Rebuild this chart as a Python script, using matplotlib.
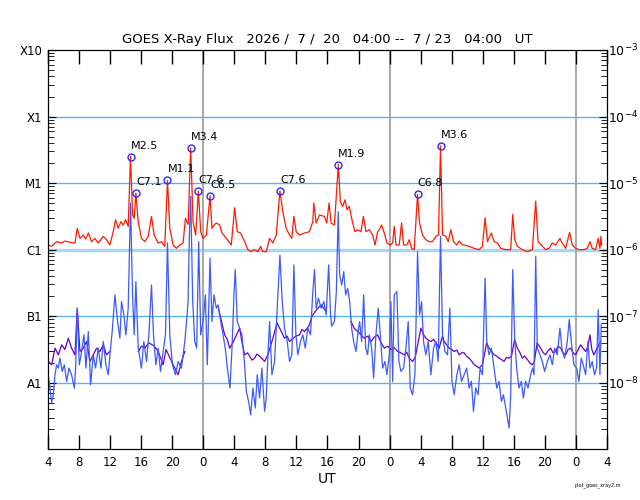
import numpy as np
import matplotlib
matplotlib.use("Agg")
import matplotlib.pyplot as plt
from matplotlib.ticker import FixedLocator, LogLocator, NullFormatter

plt.rcParams['font.family'] = ['DejaVu Sans']

# time axis: hours after 2026/07/20 04:00 UT
# long channel (1-8 A), log10 of flux W/m2
red_t = [0.0, 0.47, 1.11, 1.76, 2.19, 2.83, 3.47, 3.77, 4.11, 4.54, 4.84, 5.19, 5.62, 6.04, 6.47,
         7.12, 7.54, 7.97, 8.40, 8.70, 9.04, 9.39, 9.69, 9.99, 10.33, 10.63, 10.89, 11.10, 11.32,
         11.62, 12.04, 12.47, 12.90, 13.33, 13.67, 14.19, 14.62, 15.04, 15.39, 15.69, 16.12, 16.55,
         16.97, 17.40, 17.70, 18.05, 18.38, 18.68, 19.02, 19.37, 19.67, 19.97, 20.40, 20.87, 21.12,
         21.38, 21.68, 22.11, 22.41, 22.97, 23.61, 24.04, 24.38, 24.81, 25.33, 25.75, 26.18, 26.61,
         27.04, 27.38, 27.68, 28.11, 28.54, 28.97, 29.40, 29.87, 30.25, 30.68, 31.11, 31.41, 31.67,
         31.97, 32.40, 33.04, 33.68, 34.11, 34.24, 34.54, 34.97, 35.61, 35.90, 36.20, 36.46, 36.89,
         37.40, 37.66, 37.96, 38.26, 38.51, 38.81, 39.11, 39.54, 39.89, 40.31, 40.62, 40.96, 41.39,
         41.82, 42.12, 42.46, 42.67, 42.97, 43.32, 43.66, 44.09, 44.39, 44.60, 44.82, 45.24, 45.54,
         45.80, 46.23, 46.53, 46.83, 47.17, 47.60, 47.86, 48.24, 48.67, 49.10, 49.53, 49.96, 50.30,
         50.56, 50.82, 51.25, 51.55, 51.89, 52.23, 52.66, 52.96, 53.39, 53.60, 54.24, 54.89, 55.53,
         55.96, 56.30, 56.60, 57.11, 57.46, 57.89, 58.31, 58.96, 59.60, 59.86, 60.12, 60.46, 61.10,
         61.74, 62.39, 62.82, 63.12, 63.54, 64.10, 64.53, 64.96, 65.39, 65.94, 66.24, 66.67, 67.19,
         67.53, 67.96, 68.39, 69.03, 69.46, 69.80, 70.10, 70.53, 70.87, 71.09, 71.22, 71.30]
red_log = [-5.93, -5.95, -5.88, -5.90, -5.87, -5.89, -5.90, -5.68, -5.83, -5.78, -5.84, -5.75, -5.88,
           -5.83, -5.90, -5.80, -5.85, -5.93, -5.73, -5.55, -5.68, -5.58, -5.63, -5.55, -5.65, -4.60,
           -5.48, -5.53, -5.15, -5.58, -5.83, -5.88, -5.80, -5.50, -5.78, -5.90, -5.88, -5.95, -4.96,
           -5.68, -5.93, -5.98, -5.93, -5.90, -5.53, -5.62, -4.47, -5.58, -5.78, -5.12, -5.73, -5.83,
           -5.78, -5.19, -5.68, -5.63, -5.60, -5.63, -5.75, -5.83, -5.93, -5.37, -5.73, -5.75, -5.88,
           -6.00, -6.03, -6.00, -6.03, -5.95, -6.03, -6.03, -5.83, -5.90, -5.78, -5.12, -5.43, -5.68,
           -5.78, -5.83, -5.50, -5.73, -5.78, -5.75, -5.73, -5.58, -5.30, -5.60, -5.48, -5.50, -5.60,
           -5.30, -5.60, -5.63, -4.72, -5.28, -5.35, -5.25, -5.40, -5.35, -5.53, -5.73, -5.70, -5.73,
           -5.50, -5.73, -5.70, -5.78, -5.93, -5.73, -5.70, -5.63, -5.75, -5.90, -5.93, -5.90, -5.65,
           -5.93, -5.93, -5.60, -5.93, -5.93, -5.85, -5.98, -6.00, -5.17, -5.60, -5.78, -5.85, -5.88,
           -5.88, -5.80, -5.78, -4.44, -5.78, -5.80, -5.88, -5.70, -5.88, -5.93, -5.87, -5.93, -5.93,
           -5.95, -5.98, -6.00, -5.95, -5.52, -5.88, -5.75, -5.88, -5.90, -5.98, -6.00, -6.00, -5.47,
           -5.85, -5.95, -6.00, -6.03, -6.00, -5.27, -5.88, -5.93, -6.00, -5.98, -5.90, -5.93, -5.83,
           -5.90, -5.98, -5.74, -5.93, -5.98, -6.00, -6.00, -5.98, -5.88, -5.98, -6.00, -5.83, -5.98,
           -5.80, -5.93]

# short channel (0.5-4 A)
blue_t = [0.04, 0.26, 0.47, 0.69, 0.90, 1.11, 1.33, 1.54, 1.84, 2.10, 2.40, 2.70, 3.04, 3.39, 3.56,
          3.77, 4.03, 4.33, 4.63, 4.89, 5.19, 5.49, 5.83, 6.13, 6.47, 6.82, 7.12, 7.46, 7.76, 8.02,
          8.27, 8.62, 8.96, 9.26, 9.47, 9.77, 10.03, 10.33, 10.63, 10.89, 11.10, 11.32, 11.62, 12.04,
          12.34, 12.69, 12.99, 13.33, 13.59, 13.89, 14.19, 14.49, 14.83, 15.13, 15.39, 15.69, 16.03,
          16.42, 16.76, 17.19, 17.62, 17.92, 18.04, 18.21, 18.38, 18.64, 18.90, 19.15, 19.41, 19.67,
          19.97, 20.27, 20.52, 20.87, 21.12, 21.38, 21.68, 21.90, 22.24, 22.54, 22.84, 23.10, 23.44,
          23.70, 23.95, 24.12, 24.38, 24.68, 24.98, 25.33, 25.54, 25.84, 26.10, 26.40, 26.70, 26.95,
          27.25, 27.55, 27.90, 28.11, 28.33, 28.54, 28.84, 29.18, 29.53, 29.87, 30.17, 30.47, 30.81,
          31.11, 31.41, 31.67, 31.93, 32.18, 32.53, 32.83, 33.13, 33.47, 33.81, 34.11, 34.33, 34.54,
          34.84, 35.18, 35.53, 35.83, 36.15, 36.40, 36.54, 36.89, 37.14, 37.38, 37.57, 37.83, 38.09,
          38.34, 38.60, 38.86, 39.11, 39.37, 39.67, 39.89, 40.14, 40.40, 40.66, 40.92, 41.17, 41.39,
          41.69, 41.94, 42.24, 42.54, 42.80, 43.10, 43.40, 43.66, 43.96, 44.17, 44.39, 44.60, 44.94,
          45.20, 45.46, 45.80, 46.10, 46.40, 46.66, 46.96, 47.26, 47.60, 47.86, 48.12, 48.37, 48.67,
          48.97, 49.32, 49.66, 49.96, 50.26, 50.56, 50.82, 51.12, 51.46, 51.76, 52.03, 52.32, 52.66,
          52.96, 53.26, 53.60, 53.94, 54.24, 54.54, 54.80, 55.10, 55.40, 55.66, 55.96, 56.30, 56.51,
          56.81, 57.11, 57.46, 57.80, 58.10, 58.40, 58.66, 58.96, 59.17, 59.39, 59.60, 59.86, 60.12,
          60.37, 60.67, 60.97, 61.23, 61.53, 61.83, 62.17, 62.43, 62.60, 62.82, 63.03, 63.37, 63.67,
          63.97, 64.32, 64.66, 64.96, 65.26, 65.60, 65.94, 66.24, 66.54, 66.89, 67.14, 67.40, 67.74,
          68.09, 68.39, 68.69, 68.94, 69.25, 69.54, 69.80, 70.10, 70.40, 70.66, 70.87, 71.09, 71.26]
blue_log = [-7.88, -8.08, -8.30, -8.18, -7.88, -7.73, -7.78, -7.63, -7.83, -7.73, -7.98, -7.78, -7.88,
            -8.08, -7.78, -6.88, -7.73, -7.53, -7.28, -7.78, -7.23, -8.03, -7.58, -7.78, -7.48, -7.78,
            -7.38, -7.73, -7.88, -7.53, -7.23, -6.68, -7.08, -7.33, -6.78, -6.98, -7.28, -6.88, -5.30,
            -6.68, -7.28, -6.48, -7.48, -7.78, -7.38, -7.68, -7.28, -6.53, -7.28, -7.73, -7.48, -7.83,
            -7.53, -7.28, -5.90, -7.28, -7.73, -7.88, -7.68, -7.78, -7.38, -6.98, -6.78, -5.78, -5.20,
            -6.78, -7.38, -7.48, -5.88, -7.28, -7.08, -6.68, -7.73, -6.13, -7.08, -6.68, -6.88, -6.83,
            -7.08, -7.28, -7.48, -7.78, -8.08, -7.48, -6.68, -6.30, -7.08, -7.18, -7.28, -7.73, -8.13,
            -8.28, -8.48, -8.08, -8.38, -7.88, -8.23, -7.78, -8.43, -8.23, -7.58, -7.08, -7.88, -7.68,
            -6.88, -6.08, -6.78, -7.18, -7.38, -7.68, -7.58, -6.23, -7.28, -7.58, -7.38, -7.28, -7.48,
            -7.18, -7.28, -6.63, -6.30, -6.88, -6.73, -6.88, -6.78, -6.98, -6.23, -6.98, -7.15, -7.08,
            -6.63, -5.43, -6.38, -6.53, -6.33, -6.68, -6.58, -6.78, -7.18, -7.38, -7.53, -7.28, -7.08,
            -7.38, -6.68, -7.48, -7.58, -7.28, -7.48, -7.93, -7.28, -6.88, -7.28, -7.78, -7.68, -7.88,
            -7.58, -6.78, -7.98, -6.68, -6.63, -7.68, -7.83, -7.78, -7.48, -7.08, -8.08, -8.18, -7.88,
            -6.03, -6.98, -6.78, -7.38, -7.58, -7.38, -7.88, -7.48, -7.38, -7.68, -5.80, -7.28, -7.53,
            -7.58, -6.88, -7.98, -8.18, -7.88, -7.73, -7.98, -7.88, -7.78, -8.08, -7.98, -8.43, -8.08,
            -8.18, -7.78, -7.88, -6.43, -7.38, -7.58, -7.48, -7.78, -8.08, -7.98, -8.28, -8.18, -8.38,
            -8.53, -8.68, -8.18, -6.30, -7.38, -7.78, -8.08, -7.98, -8.23, -7.98, -8.08, -7.88, -7.78,
            -7.88, -6.10, -7.48, -7.58, -7.68, -7.83, -7.68, -7.58, -7.73, -7.48, -7.58, -7.18, -7.53,
            -7.63, -7.38, -7.05, -7.38, -7.73, -7.78, -7.98, -7.63, -7.73, -7.88, -7.38, -7.78, -7.68,
            -7.88, -7.78, -6.90, -7.88, -7.13]

# short channel, secondary satellite (only where it shows above the primary; nan = hidden)
nan = np.nan
purple_t = [0.04, 0.47, 0.90, 1.33, 1.76, 2.19, 2.61, 3.04, 3.47, 3.77, 4.11, 4.54, 4.97, 5.40, 5.83,
            6.26, 6.69, 7.12, 7.54, 7.97, 8.30,
            11.62, 12.04, 12.47, 13.00, 13.70, 14.19, 14.83, 15.20, 15.60, 16.12, 16.76, 17.19,
            17.62, 17.90,
            21.90, 22.40, 22.75, 23.10, 23.40, 23.80, 24.68, 25.00, 25.33, 25.70, 25.97, 26.30,
            26.61, 26.90, 27.25, 27.60, 27.90, 28.33, 28.97, 29.50, 30.47, 30.80, 31.11, 31.90,
            32.40, 32.70, 33.04, 33.40, 33.68, 34.00, 34.60, 35.18, 35.50, 35.83, 36.00,
            39.03, 39.45, 39.89, 40.30, 40.74, 41.20, 41.60, 42.00, 42.46, 42.90, 43.32, 43.75,
            44.17, 44.60, 45.03, 45.45, 45.89, 46.20, 46.53, 46.96, 47.30, 48.03, 48.40, 48.67,
            49.00, 49.32, 49.66, 49.96, 50.39, 50.80, 51.03, 51.35, 51.67, 52.00, 52.32, 52.66,
            52.96, 53.30, 53.60, 53.90, 54.24, 54.60, 54.89, 55.20, 55.53, 55.96, 56.50, 56.81,
            57.15, 57.46, 57.80, 58.10, 58.40, 58.74, 59.05, 59.39, 59.70, 60.10, 60.46, 60.80,
            61.10, 61.40, 61.74, 62.05, 62.39, 62.65, 63.00, 63.46, 63.80, 64.10, 64.40, 64.74,
            65.05, 65.39, 65.70, 66.03, 66.35, 66.67, 67.00, 67.32, 67.65, 67.96, 68.30, 68.60,
            68.90, 69.25, 69.55, 69.80, 70.05, 70.32, 70.55, 70.75, 71.00, 71.17]
purple_log = [-7.68, -7.73, -7.48, -7.58, -7.43, -7.50, -7.33, -7.48, -7.58, -6.88, -7.53, -7.48,
              -7.38, -7.68, -7.58, -7.48, -7.53, -7.43, -7.58, -7.53, nan,
              -7.53, -7.45, -7.48, -7.40, -7.45, -7.53, -7.73, -7.50, -7.60, -7.73, -7.88, -7.68,
              -7.53, nan,
              -6.85, -7.10, -7.28, -7.35, -7.48, -7.40, -7.18, -7.40, -7.58, -7.55, -7.60, -7.66,
              -7.63, -7.57, -7.60, -7.64, -7.68, -7.58, -7.33, -7.10, -7.33, -7.30, -7.38, -7.30,
              -7.28, -7.20, -7.23, -7.18, -7.13, -7.00, -6.90, -6.83, -6.88, -6.93, nan,
              -7.08, -7.18, -7.23, -7.28, -7.33, -7.30, -7.38, -7.32, -7.28, -7.40, -7.48, -7.45,
              -7.50, -7.47, -7.53, -7.55, -7.58, -7.54, -7.63, -7.68, -7.62, -7.18, -7.28, -7.33,
              -7.36, -7.38, -7.35, -7.40, -7.48, -7.30, -7.38, -7.43, -7.48, -7.50, -7.53, -7.51,
              -7.58, -7.55, -7.55, -7.60, -7.63, -7.68, -7.73, -7.75, -7.78, -7.73, -7.40, -7.48,
              -7.53, -7.58, -7.60, -7.63, -7.65, -7.68, -7.62, -7.63, -7.60, -7.35, -7.48, -7.55,
              -7.63, -7.60, -7.65, -7.70, -7.73, -7.68, -7.40, -7.48, -7.55, -7.58, -7.52, -7.48,
              -7.55, -7.53, -7.45, -7.48, -7.55, -7.58, -7.50, -7.48, -7.55, -7.58, -7.50, -7.43,
              -7.48, -7.53, -7.45, -7.28, -7.50, -7.58, -7.52, -7.48, -7.42, -7.38]

# flare peaks
flare_t = [10.63, 11.32, 15.39, 18.38, 19.37, 20.87, 29.87, 37.40, 47.60, 50.56]
flare_flux = [2.5e-5, 7.1e-6, 1.1e-5, 3.4e-5, 7.6e-6, 6.5e-6, 7.6e-6, 1.9e-5, 6.8e-6, 3.6e-5]
flare_label = ['M2.5', 'C7.1', 'M1.1', 'M3.4', 'C7.6', 'C6.5', 'C7.6', 'M1.9', 'C6.8', 'M3.6']

class_labels = ['A1', 'B1', 'C1', 'M1', 'X1', 'X10']
class_flux = [1e-8, 1e-7, 1e-6, 1e-5, 1e-4, 1e-3]
midnights = [20, 44, 68]

fig = plt.figure(figsize=(6.4, 5.0), dpi=100)
ax = fig.add_axes([0.075, 0.1014, 0.8734, 0.7986])

for f in class_flux[:-1]:
    if f == 1e-6:
        ax.axhline(f, color='#a6d6f8', lw=2.4, zorder=1)
    else:
        ax.axhline(f, color='#5ab4f2', lw=1.0, zorder=1)
for m in midnights:
    ax.axvline(m, color='#a8a8a8', lw=1.4, zorder=1)

ax.plot(purple_t, 10 ** np.array(purple_log), color='#6a00c8', lw=0.9, zorder=2)
ax.plot(blue_t, 10 ** np.array(blue_log), color='#3c5aff', lw=0.9, zorder=3)
ax.plot(red_t, 10 ** np.array(red_log), color='#ff1a00', lw=0.9, zorder=4)

ax.plot(flare_t, flare_flux, 'o', mfc='none', mec='#2a2aff', mew=1.0, ms=5, zorder=5)
for t, f, lab in zip(flare_t, flare_flux, flare_label):
    ax.annotate(lab, (t, f), xytext=(0, 8), textcoords='offset pixels',
                fontsize=8, ha='left', va='baseline', zorder=6)

ax.set_yscale('log')
ax.set_ylim(1e-9, 1e-3)
ax.set_xlim(0, 72)

ax.xaxis.set_major_locator(FixedLocator(list(range(0, 73, 4))))
ax.set_xticklabels([str((h + 4) % 24) for h in range(0, 73, 4)])
ax.tick_params(axis='x', direction='in', top=True, length=10, width=1, labelsize=8.5, pad=5)

ax.yaxis.set_major_locator(FixedLocator(class_flux))
ax.set_yticklabels(class_labels)
ax.yaxis.set_minor_locator(LogLocator(base=10, subs=np.arange(2, 10), numticks=20))
ax.yaxis.set_minor_formatter(NullFormatter())
ax.tick_params(axis='y', which='major', direction='in', left=True, right=True, length=6,
               labelsize=8.5, pad=4)
ax.tick_params(axis='y', which='minor', direction='in', left=True, right=True, length=4)

ax2 = ax.twinx()
ax2.set_yscale('log')
ax2.set_ylim(1e-9, 1e-3)
ax2.yaxis.set_major_locator(FixedLocator(class_flux))
ax2.set_yticklabels([r'$10^{%d}$' % e for e in range(-8, -2)])
ax2.yaxis.set_minor_locator(LogLocator(base=10, subs=np.arange(2, 10), numticks=20))
ax2.yaxis.set_minor_formatter(NullFormatter())
ax2.tick_params(axis='y', which='major', direction='in', length=6, labelsize=9, pad=1)
ax2.tick_params(axis='y', which='minor', direction='in', length=4)

ax.set_xlabel('UT', fontsize=10, labelpad=2)
fig.text(327.5 / 640, 1 - 39 / 500,
         'GOES X-Ray Flux   2026 /  7 /  20   04:00 --  7 / 23   04:00   UT',
         ha='center', va='center', fontsize=9.5)
fig.text(598 / 640, 1 - 485 / 500, 'plot_goes_xray2.m', ha='center', va='center', fontsize=3.5)

fig.savefig('out.png', dpi=100)
